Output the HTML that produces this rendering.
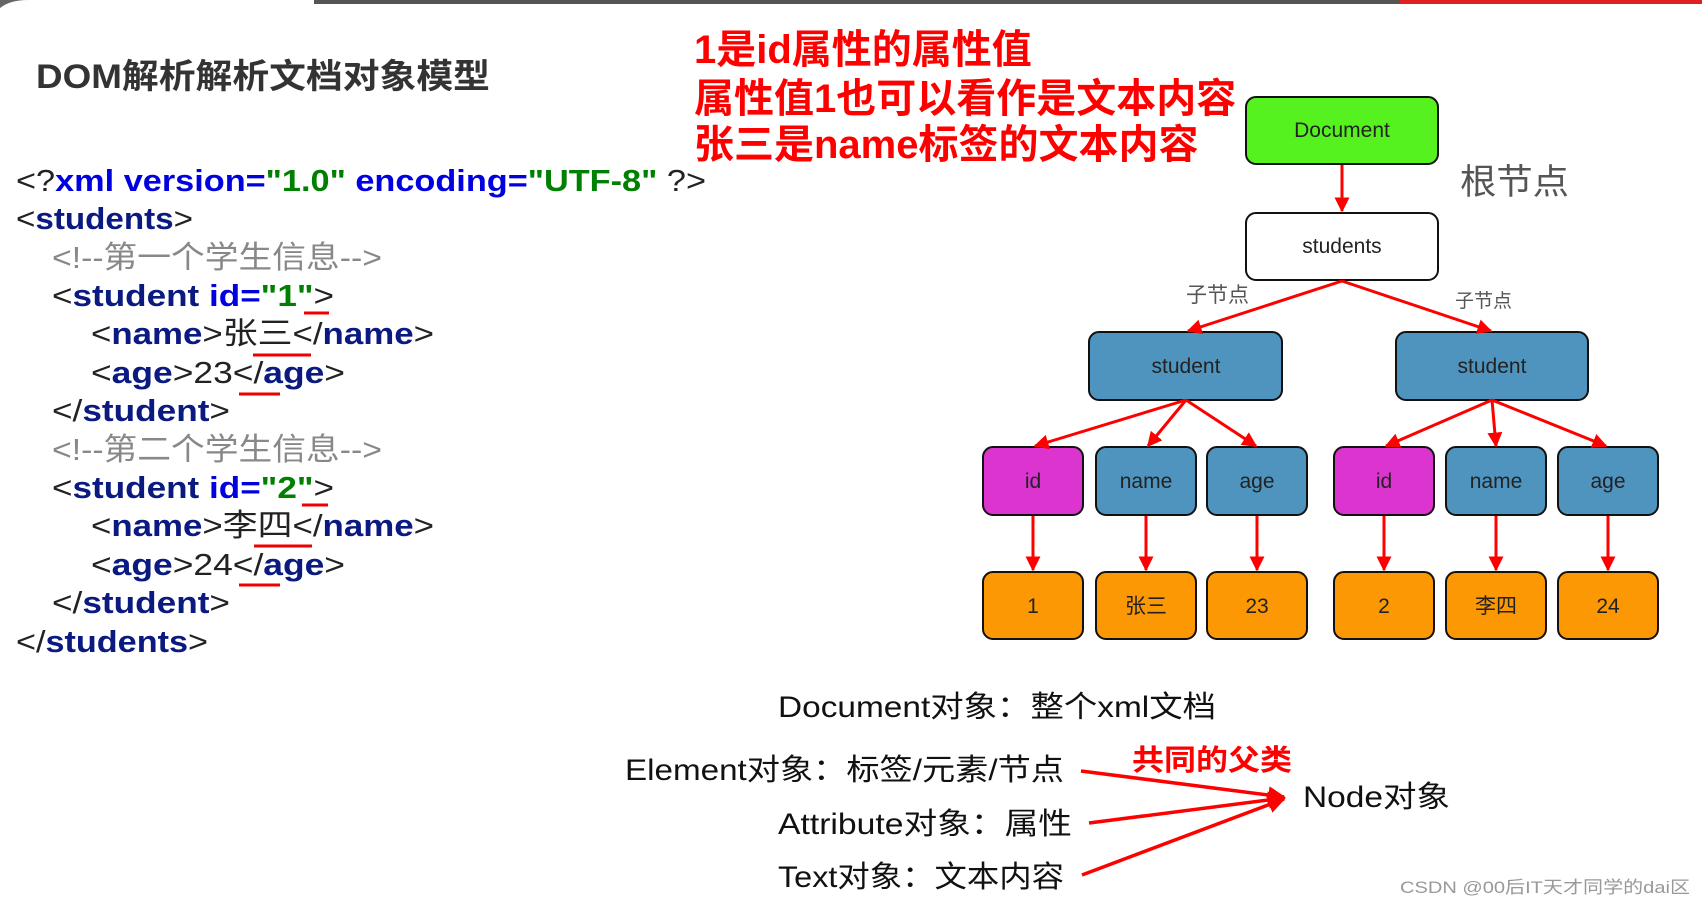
<!DOCTYPE html>
<html><head><meta charset="utf-8"><style>
html,body{margin:0;padding:0;background:#fff;width:1702px;height:906px;overflow:hidden}
svg{display:block}
text{font-family:"Liberation Sans","Noto Sans CJK SC",sans-serif}
</style></head><body>
<svg width="1702" height="906" viewBox="0 0 1702 906" xmlns="http://www.w3.org/2000/svg">
<defs>
<marker id="a" viewBox="0 0 10 10" refX="9" refY="5" markerWidth="5" markerHeight="5" orient="auto"><path d="M0,0 L10,5 L0,10 z" fill="#f00"/></marker>
</defs>
<rect x="314" y="0" width="1086" height="4" fill="#555"/>
<rect x="1400" y="0" width="302" height="4" fill="#e02020"/>
<path d="M0,8 Q10,0 28,0 L0,0 z" fill="#666"/>
<text x="36" y="88" font-size="34" font-weight="bold" fill="#333" textLength="454" lengthAdjust="spacingAndGlyphs">DOM解析解析文档对象模型</text>
<g font-size="40" font-weight="bold" fill="#f00">
<text x="694" y="63">1是id属性的属性值</text>
<text x="694" y="112">属性值1也可以看作是文本内容</text>
<text x="694" y="158">张三是name标签的文本内容</text>
</g>
<g font-size="31" lengthAdjust="spacingAndGlyphs">
<text x="16" y="191" textLength="690" lengthAdjust="spacingAndGlyphs"><tspan fill="#222">&lt;?</tspan><tspan fill="#0000e0" font-weight="bold">xml version=</tspan><tspan fill="#008000" font-weight="bold">"1.0" </tspan><tspan fill="#0000e0" font-weight="bold">encoding=</tspan><tspan fill="#008000" font-weight="bold">"UTF-8" </tspan><tspan fill="#222"> ?&gt;</tspan></text>
<text x="16" y="229" textLength="177" lengthAdjust="spacingAndGlyphs"><tspan fill="#222">&lt;</tspan><tspan fill="#0a1a80" font-weight="bold">students</tspan><tspan fill="#222">&gt;</tspan></text>
<text x="52" y="268" fill="#888" textLength="330" lengthAdjust="spacingAndGlyphs">&lt;!--第一个学生信息--&gt;</text>
<text x="52" y="306" textLength="282" lengthAdjust="spacingAndGlyphs"><tspan fill="#222">&lt;</tspan><tspan fill="#0a1a80" font-weight="bold">student </tspan><tspan fill="#0000e0" font-weight="bold">id=</tspan><tspan fill="#008000" font-weight="bold">"1"</tspan><tspan fill="#222">&gt;</tspan></text>
<text x="91" y="344" textLength="343" lengthAdjust="spacingAndGlyphs"><tspan fill="#222">&lt;</tspan><tspan fill="#0a1a80" font-weight="bold">name</tspan><tspan fill="#222">&gt;张三&lt;/</tspan><tspan fill="#0a1a80" font-weight="bold">name</tspan><tspan fill="#222">&gt;</tspan></text>
<text x="91" y="383" textLength="254" lengthAdjust="spacingAndGlyphs"><tspan fill="#222">&lt;</tspan><tspan fill="#0a1a80" font-weight="bold">age</tspan><tspan fill="#222">&gt;23&lt;/</tspan><tspan fill="#0a1a80" font-weight="bold">age</tspan><tspan fill="#222">&gt;</tspan></text>
<text x="52" y="421" textLength="178" lengthAdjust="spacingAndGlyphs"><tspan fill="#222">&lt;/</tspan><tspan fill="#0a1a80" font-weight="bold">student</tspan><tspan fill="#222">&gt;</tspan></text>
<text x="52" y="460" fill="#888" textLength="330" lengthAdjust="spacingAndGlyphs">&lt;!--第二个学生信息--&gt;</text>
<text x="52" y="498" textLength="282" lengthAdjust="spacingAndGlyphs"><tspan fill="#222">&lt;</tspan><tspan fill="#0a1a80" font-weight="bold">student </tspan><tspan fill="#0000e0" font-weight="bold">id=</tspan><tspan fill="#008000" font-weight="bold">"2"</tspan><tspan fill="#222">&gt;</tspan></text>
<text x="91" y="536" textLength="343" lengthAdjust="spacingAndGlyphs"><tspan fill="#222">&lt;</tspan><tspan fill="#0a1a80" font-weight="bold">name</tspan><tspan fill="#222">&gt;李四&lt;/</tspan><tspan fill="#0a1a80" font-weight="bold">name</tspan><tspan fill="#222">&gt;</tspan></text>
<text x="91" y="575" textLength="254" lengthAdjust="spacingAndGlyphs"><tspan fill="#222">&lt;</tspan><tspan fill="#0a1a80" font-weight="bold">age</tspan><tspan fill="#222">&gt;24&lt;/</tspan><tspan fill="#0a1a80" font-weight="bold">age</tspan><tspan fill="#222">&gt;</tspan></text>
<text x="52" y="613" textLength="178" lengthAdjust="spacingAndGlyphs"><tspan fill="#222">&lt;/</tspan><tspan fill="#0a1a80" font-weight="bold">student</tspan><tspan fill="#222">&gt;</tspan></text>
<text x="16" y="652" textLength="192" lengthAdjust="spacingAndGlyphs"><tspan fill="#222">&lt;/</tspan><tspan fill="#0a1a80" font-weight="bold">students</tspan><tspan fill="#222">&gt;</tspan></text>
</g>
<g stroke="#e00" stroke-width="3">
<line x1="304" y1="313" x2="329" y2="313"/><line x1="253" y1="355" x2="311" y2="355"/><line x1="239" y1="394" x2="280" y2="394"/>
<line x1="302" y1="505" x2="328" y2="505"/><line x1="254" y1="546" x2="312" y2="546"/><line x1="239" y1="585" x2="280" y2="585"/>
</g>
<g stroke="#111" stroke-width="2">
<rect x="1246" y="97" width="192" height="67" rx="10" fill="#55f21f"/>
<rect x="1246" y="213" width="192" height="67" rx="10" fill="#fff"/>
<rect x="1089" y="332" width="193" height="68" rx="10" fill="#4f94be"/>
<rect x="1396" y="332" width="192" height="68" rx="10" fill="#4f94be"/>
<rect x="983" y="447" width="100" height="68" rx="10" fill="#dc35cf"/>
<rect x="1096" y="447" width="100" height="68" rx="10" fill="#4f94be"/>
<rect x="1207" y="447" width="100" height="68" rx="10" fill="#4f94be"/>
<rect x="1334" y="447" width="100" height="68" rx="10" fill="#dc35cf"/>
<rect x="1446" y="447" width="100" height="68" rx="10" fill="#4f94be"/>
<rect x="1558" y="447" width="100" height="68" rx="10" fill="#4f94be"/>
<rect x="983" y="572" width="100" height="67" rx="10" fill="#fb9804"/>
<rect x="1096" y="572" width="100" height="67" rx="10" fill="#fb9804"/>
<rect x="1207" y="572" width="100" height="67" rx="10" fill="#fb9804"/>
<rect x="1334" y="572" width="100" height="67" rx="10" fill="#fb9804"/>
<rect x="1446" y="572" width="100" height="67" rx="10" fill="#fb9804"/>
<rect x="1558" y="572" width="100" height="67" rx="10" fill="#fb9804"/>
</g>
<g font-size="21" fill="#222" text-anchor="middle">
<text x="1342" y="137">Document</text>
<text x="1342" y="253">students</text>
<text x="1186" y="373">student</text>
<text x="1492" y="373">student</text>
<text x="1033" y="488">id</text><text x="1146" y="488">name</text><text x="1257" y="488">age</text>
<text x="1384" y="488">id</text><text x="1496" y="488">name</text><text x="1608" y="488">age</text>
<text x="1033" y="613">1</text><text x="1146" y="613">张三</text><text x="1257" y="613">23</text>
<text x="1384" y="613">2</text><text x="1496" y="613">李四</text><text x="1608" y="613">24</text>
</g>
<g stroke="#f00" stroke-width="3" marker-end="url(#a)">
<line x1="1342" y1="165" x2="1342" y2="211"/>
<line x1="1342" y1="281" x2="1188" y2="331"/>
<line x1="1342" y1="281" x2="1491" y2="331"/>
<line x1="1186" y1="400" x2="1035" y2="446"/>
<line x1="1186" y1="400" x2="1148" y2="446"/>
<line x1="1186" y1="400" x2="1256" y2="446"/>
<line x1="1492" y1="400" x2="1386" y2="446"/>
<line x1="1492" y1="400" x2="1496" y2="446"/>
<line x1="1492" y1="400" x2="1606" y2="446"/>
<line x1="1033" y1="516" x2="1033" y2="570"/>
<line x1="1146" y1="516" x2="1146" y2="570"/>
<line x1="1257" y1="516" x2="1257" y2="570"/>
<line x1="1384" y1="516" x2="1384" y2="570"/>
<line x1="1496" y1="516" x2="1496" y2="570"/>
<line x1="1608" y1="516" x2="1608" y2="570"/>
</g>
<text x="1460" y="194" font-size="35" fill="#555" textLength="109" lengthAdjust="spacingAndGlyphs">根节点</text>
<text x="1186" y="302" font-size="21" fill="#555">子节点</text>
<text x="1455" y="307" font-size="19" fill="#555">子节点</text>
<g font-size="30" fill="#111" lengthAdjust="spacingAndGlyphs">
<text x="778" y="717" textLength="438" lengthAdjust="spacingAndGlyphs">Document对象：整个xml文档</text>
<text x="625" y="780" textLength="439" lengthAdjust="spacingAndGlyphs">Element对象：标签/元素/节点</text>
<text x="778" y="834" textLength="294" lengthAdjust="spacingAndGlyphs">Attribute对象：属性</text>
<text x="778" y="887" textLength="286" lengthAdjust="spacingAndGlyphs">Text对象：文本内容</text>
<text x="1303" y="807" textLength="147" lengthAdjust="spacingAndGlyphs">Node对象</text>
</g>
<text x="1132" y="770" font-size="29" font-weight="bold" fill="#f00" textLength="160" lengthAdjust="spacingAndGlyphs">共同的父类</text>
<g stroke="#f00" stroke-width="3.5" marker-end="url(#a)">
<line x1="1081" y1="771" x2="1284" y2="797"/>
<line x1="1089" y1="823" x2="1284" y2="798"/>
<line x1="1082" y1="875" x2="1284" y2="799"/>
</g>
<text x="1400" y="893" font-size="17" fill="#999" textLength="290" lengthAdjust="spacingAndGlyphs">CSDN @00后IT天才同学的dai区</text>
</svg>
</body></html>
